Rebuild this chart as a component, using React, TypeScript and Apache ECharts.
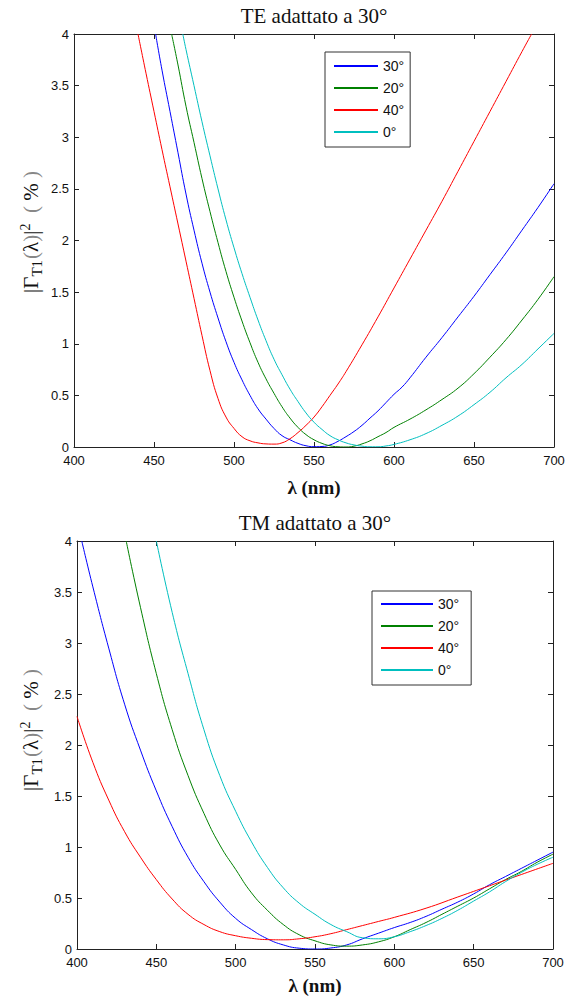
import React, { useEffect, useRef } from 'react';
import * as echarts from 'echarts';

// Legend names and colours
const NAMES = ['30°', '20°', '40°', '0°'];
const COLORS = ['#0000ff', '#008000', '#ff0000', '#00bfbf'];

// Axis ticks
const X_MIN = 400;
const X_MAX = 700;
const X_STEP = 50;
const Y_MIN = 0;
const Y_MAX = 4;
const Y_STEP = 0.5;

// TE adattato a 30° : [lambda (nm), |Γ|^2 (%)]
const TE_30 = [[451,4.0],[455,3.65],[460,3.25],[465,2.85],[470,2.45],[475,2.1],[480,1.78],[485,1.5],[490,1.25],[495,1.02],[500,0.82],[505,0.65],[510,0.5],[515,0.37],[520,0.27],[525,0.18],[530,0.11],[535,0.07],[540,0.035],[545,0.012],[550,0.003],[555,0.005],[560,0.02],[565,0.055],[570,0.1],[575,0.15],[580,0.21],[585,0.28],[590,0.35],[595,0.43],[600,0.51],[605,0.58],[610,0.67],[620,0.87],[630,1.06],[640,1.26],[650,1.46],[660,1.67],[670,1.88],[680,2.1],[690,2.32],[700,2.55]];
const TE_20 = [[461,4.0],[465,3.7],[470,3.3],[475,2.95],[480,2.6],[485,2.28],[490,1.98],[495,1.7],[500,1.45],[505,1.22],[510,1.01],[515,0.82],[520,0.66],[525,0.52],[530,0.39],[535,0.28],[540,0.19],[545,0.12],[550,0.07],[555,0.035],[560,0.012],[565,0.002],[570,0],[575,0.008],[580,0.03],[585,0.06],[590,0.1],[595,0.14],[600,0.19],[610,0.27],[620,0.36],[630,0.46],[640,0.57],[650,0.71],[660,0.87],[670,1.04],[680,1.23],[690,1.43],[700,1.65]];
const TE_40 = [[440,4.0],[445,3.62],[450,3.25],[455,2.88],[460,2.52],[465,2.16],[470,1.8],[475,1.44],[480,1.08],[485,0.74],[490,0.47],[495,0.29],[500,0.18],[505,0.1],[510,0.06],[515,0.04],[520,0.03],[525,0.028],[530,0.04],[535,0.08],[540,0.14],[545,0.21],[550,0.29],[555,0.39],[560,0.5],[565,0.61],[570,0.73],[580,0.99],[590,1.26],[600,1.54],[610,1.82],[620,2.1],[630,2.38],[640,2.67],[650,2.96],[660,3.25],[670,3.54],[680,3.83],[686,4.0]];
const TE_0 = [[468,4.0],[470,3.85],[475,3.5],[480,3.15],[485,2.82],[490,2.5],[495,2.2],[500,1.93],[505,1.68],[510,1.45],[515,1.23],[520,1.03],[525,0.85],[530,0.7],[535,0.56],[540,0.44],[545,0.33],[550,0.24],[555,0.17],[560,0.11],[565,0.07],[570,0.04],[575,0.02],[580,0.008],[585,0.002],[590,0.002],[595,0.01],[600,0.025],[610,0.07],[620,0.13],[630,0.21],[640,0.3],[650,0.41],[660,0.53],[670,0.67],[680,0.8],[690,0.95],[700,1.1]];

// TM adattato a 30°
const TM_30 = [[403,4.0],[410,3.55],[420,2.95],[430,2.4],[440,1.95],[450,1.55],[460,1.2],[470,0.9],[480,0.66],[490,0.46],[500,0.3],[510,0.19],[520,0.1],[530,0.04],[540,0.008],[550,0],[560,0.01],[570,0.04],[580,0.1],[590,0.155],[600,0.21],[610,0.26],[620,0.32],[630,0.39],[640,0.46],[650,0.54],[660,0.63],[670,0.71],[680,0.79],[690,0.87],[700,0.95]];
const TM_20 = [[431,4.0],[440,3.35],[450,2.7],[460,2.15],[470,1.7],[480,1.33],[490,1.02],[500,0.78],[510,0.55],[520,0.38],[530,0.24],[540,0.14],[550,0.08],[560,0.04],[570,0.028],[580,0.04],[590,0.07],[600,0.12],[610,0.19],[620,0.26],[630,0.34],[640,0.42],[650,0.5],[660,0.59],[670,0.68],[680,0.76],[690,0.85],[700,0.93]];
const TM_40 = [[400,2.28],[410,1.83],[420,1.46],[430,1.15],[440,0.9],[450,0.68],[460,0.49],[470,0.34],[480,0.24],[490,0.17],[500,0.13],[510,0.105],[520,0.092],[530,0.09],[540,0.1],[550,0.12],[560,0.15],[570,0.19],[580,0.23],[590,0.27],[600,0.31],[620,0.4],[640,0.51],[660,0.62],[680,0.73],[700,0.84]];
const TM_0 = [[450,4.0],[460,3.3],[470,2.7],[480,2.15],[490,1.7],[500,1.35],[510,1.05],[520,0.8],[530,0.6],[540,0.45],[550,0.34],[560,0.24],[570,0.17],[580,0.11],[590,0.1],[600,0.12],[610,0.17],[620,0.23],[630,0.3],[640,0.38],[650,0.47],[660,0.56],[670,0.66],[680,0.75],[690,0.83],[700,0.9]];

const TITLES = ['TE adattato a 30°', 'TM adattato a 30°'];
const X_NAME = 'λ (nm)';

const SERIES_TE = [TE_30, TE_20, TE_40, TE_0];
const SERIES_TM = [TM_30, TM_20, TM_40, TM_0];

export default function App() {
  const ref = useRef<HTMLDivElement>(null);
  useEffect(() => {
    const chart = echarts.init(ref.current!, null, { renderer: 'svg' });
    const grids = [
      { left: 74, top: 34, width: 480, height: 413 },
      { left: 77, top: 541, width: 476, height: 408 },
    ];
    const axisColor = '#222';
    const tickFont = { fontFamily: 'Liberation Sans', fontSize: 13, color: '#111' };
    const xAxis: any[] = [];
    const yAxis: any[] = [];
    grids.forEach((_, i) => {
      const common = {
        type: 'value', gridIndex: i, splitLine: { show: false },
        axisLine: { show: true, onZero: false, lineStyle: { color: axisColor, width: 1 } },
        axisTick: { show: true, inside: true, length: 5, lineStyle: { color: axisColor } },
      };
      xAxis.push({ ...common, min: X_MIN, max: X_MAX, interval: X_STEP, position: 'bottom',
        axisLabel: { ...tickFont, margin: 7 } });
      xAxis.push({ ...common, min: X_MIN, max: X_MAX, interval: X_STEP, position: 'top',
        axisLabel: { show: false } });
      yAxis.push({ ...common, min: Y_MIN, max: Y_MAX, interval: Y_STEP, position: 'left',
        axisLabel: { ...tickFont, margin: 5 } });
      yAxis.push({ ...common, min: Y_MIN, max: Y_MAX, interval: Y_STEP, position: 'right',
        axisLabel: { show: false } });
    });

    const series: any[] = [];
    [SERIES_TE, SERIES_TM].forEach((set, g) => {
      set.forEach((data, k) => {
        series.push({
          type: 'line', name: NAMES[k], data,
          xAxisIndex: g * 2, yAxisIndex: g * 2,
          symbol: 'none', smooth: 0.5,
          lineStyle: { color: COLORS[k], width: 1 },
          itemStyle: { color: COLORS[k] },
        });
      });
    });

    const legendCommon = {
      orient: 'vertical', itemHeight: 14, itemGap: 8,
      borderColor: '#333', borderWidth: 1, borderRadius: 0, backgroundColor: '#fff',
      textStyle: { fontFamily: 'Liberation Sans', fontSize: 14, color: '#111' },
      itemStyle: { opacity: 0 },
      data: NAMES, selectedMode: false,
    };

    const yLabel = (cx: number, cy: number) => ({
      type: 'text', x: cx, y: cy, rotation: Math.PI / 2,
      style: {
        text: '{b||Γ}{sub|T1}{p|(}{b|λ}{p|)}{b||}{sup|2}{p|  (}{b| % }{p|)}',
        align: 'center', verticalAlign: 'middle',
        rich: {
          b: { fontFamily: 'Liberation Serif', fontSize: 21, fill: '#111', verticalAlign: 'middle' },
          p: { fontFamily: 'Liberation Serif', fontSize: 21, fill: '#888', verticalAlign: 'middle' },
          sub: { fontFamily: 'Liberation Serif', fontSize: 15, fill: '#111', verticalAlign: 'bottom', padding: [8, 1, 0, 0] },
          sup: { fontFamily: 'Liberation Serif', fontSize: 14, fill: '#111', verticalAlign: 'top', padding: [0, 0, 12, 0] },
        },
      },
    });

    const text = (t: string, x: number, y: number, size: number, weight = 'normal') => ({
      type: 'text', x, y,
      style: { text: t, fontFamily: 'Liberation Serif', fontSize: size, fontWeight: weight, fill: '#111',
        align: 'center', verticalAlign: 'middle' },
    });

    chart.setOption({
      animation: false,
      backgroundColor: '#fff',
      grid: grids,
      xAxis, yAxis, series,
      legend: [
        { ...legendCommon, left: 325, top: 52, itemWidth: 44, padding: [7, 6, 8, 8] },
        { ...legendCommon, left: 372, top: 591, itemWidth: 52, padding: [6, 12, 8, 8] },
      ],
      graphic: [
        text(TITLES[0], 314, 16, 21),
        text(TITLES[1], 315, 523, 21),
        text(X_NAME, 314, 487, 19, 'bold'),
        text(X_NAME, 315, 985, 19, 'bold'),
        yLabel(31, 232),
        yLabel(31, 730),
      ],
    });
    return () => chart.dispose();
  }, []);
  return <div ref={ref} style={{ position: 'fixed', left: 0, top: 0, width: 572, height: 996 }} />;
}
